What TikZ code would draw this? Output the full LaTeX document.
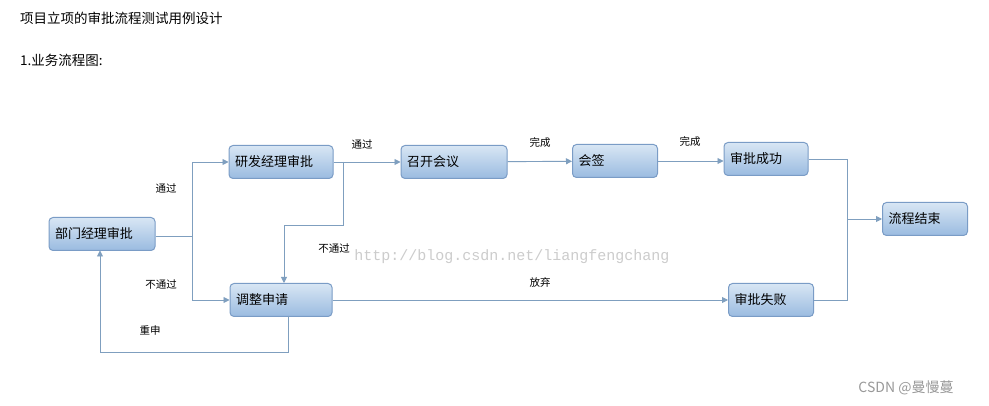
\documentclass[tikz,border=0pt]{standalone}
\usepackage{fontspec}
\setmainfont{Liberation Sans}
\newfontfamily\cjk{Noto Sans CJK SC}
\newfontfamily\mono{Liberation Mono}
\usetikzlibrary{arrows.meta}
\definecolor{ln}{HTML}{7F9FBF}
\definecolor{bd}{HTML}{7A9CC6}
\definecolor{tp}{HTML}{D8E6F4}
\definecolor{bt}{HTML}{9ABBE0}
\tikzset{
 box/.style={draw=bd,line width=1pt,rounded corners=4pt,top color=tp,bottom color=bt,minimum height=33pt,anchor=center,font=\cjk\fontsize{13}{13}\selectfont,align=left,inner xsep=6pt},
 conn/.style={draw=ln,line width=0.9pt},
 arr/.style={conn,-{Triangle[length=6pt,width=6pt]}},
 lab/.style={font=\cjk\fontsize{10.5}{10.5}\selectfont}
}
\begin{document}
\begin{tikzpicture}[x=1pt,y=-1pt]
\useasboundingbox (0,0) rectangle (989,406);
\fill[white] (0,0) rectangle (989,406);
\node[anchor=west,font=\cjk\fontsize{13.5}{13.5}\selectfont,inner sep=0pt] (t1) at (20,18) {项目立项的审批流程测试用例设计};
\node[anchor=west,font=\cjk\fontsize{13.5}{13.5}\selectfont,inner sep=0pt] (t2) at (20,60) {1.业务流程图:};
\node[box,minimum width=106pt,text width=94pt] (bm) at (102,234) {部门经理审批};
\node[box,minimum width=104pt,text width=92pt] (yf) at (281,162) {研发经理审批};
\node[box,minimum width=106pt,text width=94pt] (zk) at (454,162) {召开会议};
\node[box,minimum width=85pt,text width=73pt] (hq) at (615,161) {会签};
\node[box,minimum width=84pt,text width=72pt] (cg) at (766,159) {审批成功};
\node[box,minimum width=85pt,text width=73pt] (js) at (925,219) {流程结束};
\node[box,minimum width=102pt,text width=90pt] (tz) at (281,300) {调整申请};
\node[box,minimum width=85pt,text width=73pt] (sb) at (771,300) {审批失败};
\node[font=\mono\fontsize{15}{15}\selectfont,text=gray!40] (wm) at (512,257) {http://blog.csdn.net/liangfengchang};
\coordinate (j1) at (192,236);
\draw[conn] (bm.east|-j1) -- (j1);
\draw[arr] (j1) |- (yf.west);
\draw[arr] (j1) |- (tz.west);
\draw[arr] (yf) -- (zk);
\draw[arr] (zk) -- (hq);
\draw[arr] (hq.east) -- (cg.west|-hq.east);
\coordinate (d1) at (343,162);
\draw[arr] (d1) -- (343,225) -- (284,225) -- (284,283);
\draw[arr] (tz) -- (sb);
\draw[arr] (288,316) -- (288,352) -- (100,352) -- (100,250.5);
\draw[conn] (cg.east) -| (847,219);
\draw[conn] (sb.east) -| (847,219);
\draw[arr] (847,219) -- (js.west);
\node[lab] (l1) at (166,188) {通过};
\node[lab] (l2) at (161,285) {不通过};
\node[lab] (l3) at (150,331) {重申};
\node[lab] (l4) at (362,144) {通过};
\node[lab] (l5) at (334,249) {不通过};
\node[lab] (l6) at (540,143) {完成};
\node[lab] (l7) at (690,142) {完成};
\node[lab] (l8) at (540,282) {放弃};
\node[font=\cjk\fontsize{14}{14}\selectfont,text=gray!80] (cs) at (906,388) {CSDN @曼慢蔓};
\end{tikzpicture}
\end{document}
